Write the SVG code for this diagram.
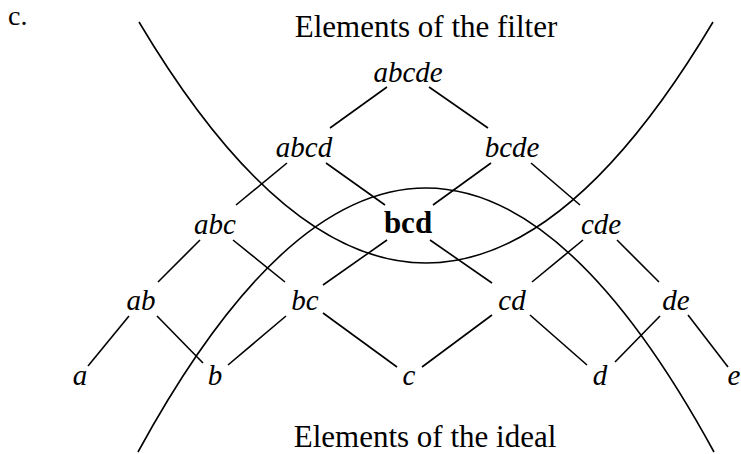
<svg xmlns="http://www.w3.org/2000/svg" width="741" height="454" viewBox="0 0 741 454">
<style>
.lbl{font-family:"Liberation Serif","Times New Roman",serif;font-style:italic;font-size:29px;fill:#000;text-anchor:middle}
.bold{font-family:"Liberation Serif",serif;font-weight:bold;font-size:31px;fill:#000;text-anchor:middle}
.hdr{font-family:"Liberation Serif",serif;font-size:31px;fill:#000;text-anchor:middle}
.e{stroke:#000;stroke-width:1.6;fill:none}
.curve{stroke:#000;stroke-width:1.6;fill:none}
</style>
<rect width="741" height="454" fill="#fff"/>
<text x="8" y="25" class="hdr" style="text-anchor:start;font-size:28px">c.</text>
<text id="filter-label" x="426" y="37" class="hdr">Elements of the filter</text>
<text id="ideal-label" x="425" y="447" class="hdr">Elements of the ideal</text>
<g id="curves">
<path id="filter-curve" class="curve" d="M139,22 Q426,504 713,22"/>
<path id="ideal-curve" class="curve" d="M138,452 Q426,-76 714,452"/>
</g>
<g id="connectors">
<line class="e" x1="330" y1="128" x2="387" y2="87"/>
<line class="e" x1="429" y1="87" x2="488" y2="128"/>
<line class="e" x1="287" y1="163" x2="236" y2="205"/>
<line class="e" x1="326" y1="163" x2="385" y2="205"/>
<line class="e" x1="491" y1="163" x2="433" y2="205"/>
<line class="e" x1="531" y1="163" x2="580" y2="205"/>
<line class="e" x1="200" y1="240" x2="158" y2="282"/>
<line class="e" x1="233" y1="240" x2="285" y2="282"/>
<line class="e" x1="387" y1="240" x2="323" y2="285"/>
<line class="e" x1="430" y1="240" x2="492" y2="283"/>
<line class="e" x1="583" y1="240" x2="532" y2="282"/>
<line class="e" x1="617" y1="240" x2="659" y2="282"/>
<line class="e" x1="129" y1="316" x2="88" y2="366"/>
<line class="e" x1="157" y1="316" x2="203" y2="363"/>
<line class="e" x1="286" y1="316" x2="228" y2="365"/>
<line class="e" x1="323" y1="313" x2="397" y2="367"/>
<line class="e" x1="492" y1="315" x2="422" y2="367"/>
<line class="e" x1="530" y1="315" x2="587" y2="365"/>
<line class="e" x1="660" y1="316" x2="615" y2="362"/>
<line class="e" x1="688" y1="315" x2="728" y2="367"/>
</g>
<g id="n-abcde"><text class="lbl" x="408" y="82">abcde</text></g>
<g id="n-abcd"><text class="lbl" x="304" y="157">abcd</text></g>
<g id="n-bcde"><text class="lbl" x="512" y="157">bcde</text></g>
<g id="n-abc"><text class="lbl" x="215" y="234">abc</text></g>
<g id="n-bcd"><text class="bold" x="408" y="233">bcd</text></g>
<g id="n-cde"><text class="lbl" x="601" y="234">cde</text></g>
<g id="n-ab"><text class="lbl" x="141" y="310">ab</text></g>
<g id="n-bc"><text class="lbl" x="305" y="310">bc</text></g>
<g id="n-cd"><text class="lbl" x="512" y="310">cd</text></g>
<g id="n-de"><text class="lbl" x="676" y="310">de</text></g>
<g id="n-a"><text class="lbl" x="80" y="385">a</text></g>
<g id="n-b"><text class="lbl" x="215" y="385">b</text></g>
<g id="n-c"><text class="lbl" x="409" y="385">c</text></g>
<g id="n-d"><text class="lbl" x="600" y="385">d</text></g>
<g id="n-e"><text class="lbl" x="734" y="385">e</text></g>
</svg>
